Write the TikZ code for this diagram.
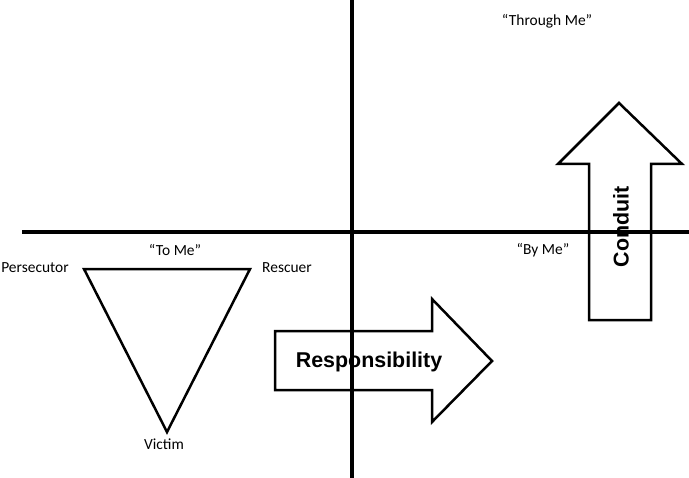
\documentclass[tikz,border=0pt]{standalone}
\usepackage{fontspec}
\setmainfont{Carlito}
\newfontfamily\arialfont{Liberation Sans}
\usetikzlibrary{positioning}
\tikzset{
  axisline/.style={line width=4bp, black},
  outline/.style={line width=2.5bp, draw=black, fill=white, line join=miter},
  lbl/.style={font=\fontsize{15.5}{18}\selectfont, inner sep=0pt},
  biglbl/.style={font=\arialfont\bfseries\fontsize{21.5}{24}\selectfont, inner sep=0pt},
}

\begin{document}
\begin{tikzpicture}[x=1bp, y=-1bp]
  \useasboundingbox (0,0) rectangle (689,478);

  %% ── Drama triangle ─────────────────────────────────────────────────────────

  \coordinate (pers) at (84,269);
  \coordinate (resc) at (250,269);
  \coordinate (vict) at (167,432);
  \draw[outline] (pers) -- (resc) -- (vict) -- cycle;

  \node[lbl] (perslbl) at (35,268) {Persecutor};
  \node[lbl, anchor=west] (resclbl) at (262,268) {Rescuer};
  \node[lbl] (victlbl) at (164,444) {Victim};
  \node[lbl] (tome) at (175,250) {“To Me”};

  %% ── Responsibility arrow ───────────────────────────────────────────────────

  \draw[outline] (275,331) -- (432,331) -- (432,299) -- (492,361)
    -- (432,422) -- (432,390) -- (275,390) -- cycle;
  \node[biglbl] (resp) at (369,362) {Responsibility};

  %% ── Conduit arrow ──────────────────────────────────────────────────────────

  \draw[outline] (589,320) -- (589,164) -- (558,164) -- (619,103)
    -- (682,164) -- (651,164) -- (651,320) -- cycle;
  \node[biglbl, rotate=90] (cond) at (621,227) {Conduit};

  %% ── Axes ───────────────────────────────────────────────────────────────────

  \coordinate (xleft) at (22,232);
  \coordinate (xright) at (689,232);
  \coordinate (ytop) at (352,0);
  \coordinate (ybot) at (352,478);
  \draw[axisline] (xleft) -- (xright);
  \draw[axisline] (ytop) -- (ybot);

  % Quadrant labels
  \node[lbl] (byme) at (543,250) {“By Me”};
  \node[lbl] (through) at (547,21) {“Through Me”};

\end{tikzpicture}
\end{document}
